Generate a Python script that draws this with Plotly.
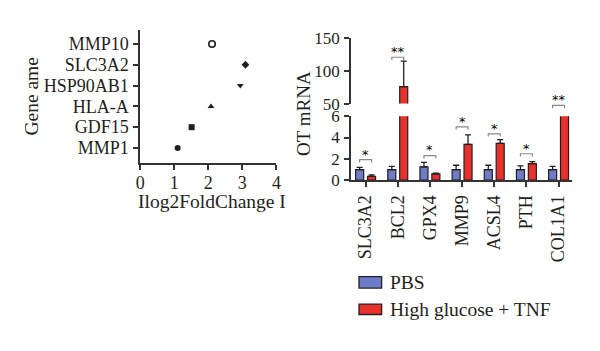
import plotly.graph_objects as go

# ---------------- data ----------------
genes_left = ["MMP1", "GDF15", "HLA-A", "HSP90AB1", "SLC3A2", "MMP10"]
fold_change = [1.10, 1.51, 2.08, 2.94, 3.09, 2.11]
symbols_left = ["circle", "square", "triangle-up", "triangle-down", "diamond", "circle-open"]

genes_right = ["SLC3A2", "BCL2", "GPX4", "MMP9", "ACSL4", "PTH", "COL1A1"]
pbs_vals = [1.0, 1.0, 1.25, 1.0, 1.0, 1.0, 1.0]
pbs_err = [0.2, 0.3, 0.43, 0.4, 0.4, 0.35, 0.3]
hg_vals = [0.35, 76, 0.6, 3.35, 3.45, 1.55, 12]
hg_err = [0.15, 39, 0.05, 0.9, 0.35, 0.2, 2]
sig_text = ["*", "**", "*", "*", "*", "*", "**"]
sig_level = [1.92, 121, 2.3, 5.0, 4.35, 2.48, 44]

series_names = ["PBS", "High glucose + TNF"]
series_colors = ["#6d7cc6", "#e8312a"]

# ---------------- layout geometry ----------------
W, H = 600, 351
FONT = "Liberation Serif"
INK = "#231f20"

def px(x):
    return x / W

def py(y):
    return 1 - y / H

# right panel mapping
RX0, RX1 = 351.7, 577.0
XR = [-0.459, 6.43]
B_BOT, B_TOP = 181.0, 113.3   # lower segment 0..6
T_BOT, T_TOP = 100.0, 31.0    # upper segment 50..150

def xr_px(v):
    return RX0 + (v - XR[0]) / (XR[1] - XR[0]) * (RX1 - RX0)

def yr_px(v):
    if v <= 6:
        return B_BOT + (v - 0) / 6 * (B_TOP - B_BOT)
    if v >= 50:
        return T_BOT + (v - 50) / 100 * (T_TOP - T_BOT)
    return B_TOP + (v - 6) / 44 * (T_BOT - B_TOP)

fig = go.Figure()

# left scatter
for g, v, s in zip(genes_left, fold_change, symbols_left):
    fig.add_trace(go.Scatter(
        x=[v], y=[genes_left.index(g)], mode="markers",
        marker=dict(symbol=s, size=6 if "open" not in s else 6.5, color=INK,
                    line=dict(color=INK, width=1.6 if "open" in s else 0)),
        xaxis="x", yaxis="y", showlegend=False, cliponaxis=False))

idx = list(range(len(genes_right)))
OFF = 0.185
BW = 0.25
for axx, axy in (("x2", "y2"), ("x3", "y3")):
    fig.add_trace(go.Bar(
        x=idx, y=pbs_vals, width=BW, offset=-OFF - BW / 2,
        marker=dict(color=series_colors[0], line=dict(color=INK, width=1.2)),
        error_y=dict(type="data", array=pbs_err, arrayminus=[0] * 7, symmetric=False,
                     color=INK, thickness=1.3, width=3),
        xaxis=axx, yaxis=axy, showlegend=False))
    fig.add_trace(go.Bar(
        x=idx, y=hg_vals, width=BW, offset=OFF - BW / 2,
        marker=dict(color=series_colors[1], line=dict(color=INK, width=1.2)),
        error_y=dict(type="data", array=hg_err, arrayminus=[0] * 7, symmetric=False,
                     color=INK, thickness=1.3, width=3),
        xaxis=axx, yaxis=axy, showlegend=False))

shapes = []
annotations = []

# significance brackets
for i, (t, lv) in enumerate(zip(sig_text, sig_level)):
    x0 = xr_px(i - OFF)
    x1 = xr_px(i + OFF)
    yb = yr_px(lv)
    path = f"M {px(x0)},{py(yb + 3)} L {px(x0)},{py(yb)} L {px(x1)},{py(yb)} L {px(x1)},{py(yb + 3)}"
    shapes.append(dict(type="path", xref="paper", yref="paper", path=path,
                       line=dict(color="#8a8a8a", width=1.2)))
    annotations.append(dict(x=px((x0 + x1) / 2), y=py(yb - 6), xref="paper", yref="paper",
                            text=t, showarrow=False,
                            font=dict(family="DejaVu Sans", size=13, color="#000000"),
                            xanchor="center", yanchor="middle"))

# legend drawn manually
leg_rows = [(283, 295), (312, 323)]
for (y0, y1), name, col in zip(leg_rows, series_names, series_colors):
    shapes.append(dict(type="rect", xref="paper", yref="paper",
                       x0=px(360), x1=px(383), y0=py(y1), y1=py(y0),
                       fillcolor=col, line=dict(color=INK, width=1.3)))
    annotations.append(dict(x=px(389), y=py((y0 + y1) / 2), xref="paper", yref="paper",
                            text=name, showarrow=False, xanchor="left", yanchor="middle",
                            font=dict(family=FONT, size=19.5, color=INK)))

# axis titles
annotations.append(dict(x=px(210), y=py(204), xref="paper", yref="paper",
                        text="Ilog2FoldChange I", showarrow=False,
                        xanchor="center", yanchor="middle",
                        font=dict(family=FONT, size=19.5, color=INK)))
annotations.append(dict(x=px(26), y=py(92), xref="paper", yref="paper",
                        text="Gene ame", showarrow=False, textangle=-90,
                        xanchor="center", yanchor="middle",
                        font=dict(family=FONT, size=19.5, color=INK)))
annotations.append(dict(x=px(303), y=py(110), xref="paper", yref="paper",
                        text="OT mRNA", showarrow=False, textangle=-90,
                        xanchor="center", yanchor="middle",
                        font=dict(family=FONT, size=19, color=INK)))

tickfont = dict(family=FONT, size=18, color=INK)
axis_common = dict(showline=True, linecolor="#333333", linewidth=1.6, ticks="outside",
                   ticklen=5, tickwidth=1.5, tickcolor="#333333", showgrid=False,
                   zeroline=False)

fig.update_layout(
    width=W, height=H, margin=dict(l=0, r=0, t=0, b=0),
    paper_bgcolor="white", plot_bgcolor="white",
    barmode="overlay", shapes=shapes, annotations=annotations, showlegend=False,
    xaxis=dict(domain=[px(137.5), px(276)], range=[0, 4], tickvals=[0, 1, 2, 3, 4],
               anchor="y", ticklabelstandoff=-3, tickfont=tickfont, **axis_common),
    yaxis=dict(domain=[py(163), py(22)], range=[-0.73, 5.68], tickvals=list(range(6)),
               ticktext=genes_left, anchor="x", ticklabelstandoff=1, tickfont=tickfont,
               **axis_common),
    xaxis2=dict(domain=[px(RX0), px(RX1)], range=XR, tickvals=idx, ticktext=genes_right,
                tickangle=-90, anchor="y2", ticklabelstandoff=1, tickfont=tickfont,
                **axis_common),
    yaxis2=dict(domain=[py(B_BOT), py(B_TOP)], range=[0, 6], tickvals=[0, 2, 4, 6],
                anchor="x2", ticklabelstandoff=1,
                tickfont=dict(family=FONT, size=17, color=INK), **axis_common),
    xaxis3=dict(domain=[px(RX0), px(RX1)], range=XR, visible=False, anchor="y3",
                matches="x2"),
    yaxis3=dict(domain=[py(T_BOT), py(T_TOP)], range=[50, 150], tickvals=[50, 100, 150],
                anchor="x3", ticklabelstandoff=1,
                tickfont=dict(family=FONT, size=17, color=INK), **axis_common),
)

fig.write_html("out.html")
